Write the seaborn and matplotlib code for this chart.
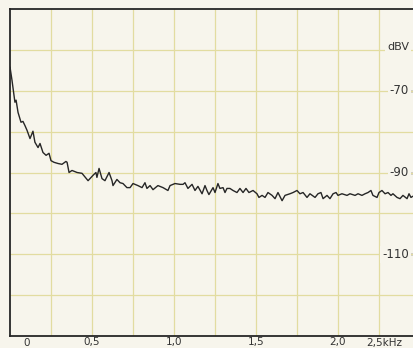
import matplotlib
matplotlib.use("Agg")
import matplotlib.pyplot as plt
import matplotlib.transforms as mtransforms
import seaborn as sns

# noise spectrum: frequency in kHz, level in dBV
freq_khz = [
    0.000, 0.012, 0.024, 0.030, 0.037, 0.049, 0.067, 0.079, 0.091, 0.104,
    0.122, 0.140, 0.152, 0.171, 0.183, 0.201, 0.220, 0.238, 0.250, 0.268,
    0.293, 0.317, 0.341, 0.348, 0.360, 0.378, 0.409, 0.439, 0.476, 0.506,
    0.524, 0.530, 0.543, 0.561, 0.579, 0.604, 0.622, 0.628, 0.652, 0.671,
    0.689, 0.713, 0.732, 0.750, 0.780, 0.805, 0.823, 0.835, 0.854, 0.872,
    0.902, 0.933, 0.963, 0.976, 1.006, 1.037, 1.055, 1.067, 1.085, 1.110,
    1.128, 1.146, 1.171, 1.189, 1.201, 1.213, 1.238, 1.250, 1.268, 1.280,
    1.299, 1.311, 1.323, 1.341, 1.360, 1.384, 1.402, 1.421, 1.439, 1.457,
    1.482, 1.506, 1.518, 1.537, 1.555, 1.573, 1.598, 1.616, 1.634, 1.659,
    1.677, 1.707, 1.726, 1.750, 1.768, 1.787, 1.811, 1.829, 1.860, 1.878,
    1.896, 1.909, 1.933, 1.951, 1.970, 1.988, 2.000, 2.024, 2.055, 2.073,
    2.104, 2.122, 2.146, 2.165, 2.183, 2.201, 2.213, 2.238, 2.250, 2.268,
    2.287, 2.305, 2.323, 2.335, 2.360, 2.378, 2.396, 2.421, 2.433, 2.445,
    2.457,
]
level_dbv = [
    -64.2, -67.4, -71.1, -72.8, -72.3, -75.3, -77.7, -77.5, -78.5, -79.7,
    -81.7, -79.9, -82.6, -83.9, -82.9, -85.1, -85.8, -85.3, -87.1, -87.5,
    -87.8, -88.0, -87.3, -87.5, -90.0, -89.5, -90.0, -90.2, -92.0, -90.7,
    -90.0, -91.2, -89.0, -91.5, -92.0, -90.0, -92.0, -93.2, -91.7, -92.5,
    -92.7, -93.7, -93.7, -92.7, -93.2, -93.7, -92.5, -93.9, -93.2, -94.2,
    -93.2, -93.7, -94.4, -93.2, -92.7, -92.9, -92.9, -92.5, -93.9, -92.9,
    -94.4, -93.4, -95.2, -93.2, -94.4, -95.4, -93.7, -94.9, -92.7, -93.9,
    -93.7, -94.9, -93.9, -93.9, -94.4, -94.9, -93.9, -94.9, -93.9, -94.9,
    -94.4, -95.2, -96.1, -95.6, -96.1, -94.9, -95.6, -96.4, -94.9, -96.9,
    -95.6, -95.2, -94.9, -94.4, -95.2, -94.9, -96.1, -95.2, -96.1, -95.2,
    -94.9, -96.4, -95.6, -96.4, -95.2, -94.9, -95.6, -95.2, -95.6, -95.2,
    -95.6, -95.2, -95.6, -95.2, -94.9, -94.4, -95.6, -96.1, -94.9, -94.4,
    -95.2, -94.9, -95.6, -95.2, -96.1, -96.4, -95.6, -96.4, -95.2, -96.1,
    -95.8,
]
assert len(freq_khz) == len(level_dbv)

x_ticks = [0.5, 1.0, 1.5, 2.0]
x_tick_labels = ["0,5", "1,0", "1,5", "2,0"]
y_labels = {-70: "-70", -90: "-90", -110: "-110"}

paper = "#f7f5ec"
grid_col = "#e2dca0"
ink = "#262626"
text_col = "#333333"

sns.set_style("white", {"axes.facecolor": paper, "figure.facecolor": paper})
plt.rcParams["font.family"] = ["DejaVu Sans"]

fig = plt.figure(figsize=(4.13, 3.48), dpi=100)
# the scan cuts the plot on the right, so the axes run past the figure edge
ax = fig.add_axes([10 / 413, 12 / 348, 410 / 413, 327 / 348])

sns.lineplot(x=freq_khz, y=level_dbv, ax=ax, color=ink, linewidth=1.0,
             estimator=None, zorder=3)

ax.set_xlim(0, 2.5)
ax.set_ylim(-130, -50)

# yellowish chart-paper grid
for gx in [0.25 * i for i in range(1, 10)]:
    ax.axvline(gx, color=grid_col, linewidth=0.9, zorder=1)
for gy in range(-120, -50, 10):
    ax.axhline(gy, color=grid_col, linewidth=0.9, zorder=1)

ax.set_xticks(x_ticks)
ax.set_xticklabels(x_tick_labels)
ax.tick_params(axis="x", direction="in", length=5, width=1, color=ink,
               pad=1, labelsize=7.5, labelcolor=text_col)
ax.yaxis.tick_right()
ax.set_yticks(list(y_labels.keys()))
ax.set_yticklabels([])
ax.tick_params(axis="y", direction="in", length=10, width=1, color=text_col)

trans = mtransforms.blended_transform_factory(ax.transData, ax.transAxes)
ax.text(0.104, -0.006, "0", transform=trans, ha="center", va="top",
        fontsize=7.5, color=text_col)
ax.text(2.28, -0.006, "2,5kHz", transform=trans, ha="center", va="top",
        fontsize=7.5, color=text_col)

lab_box = dict(facecolor=paper, edgecolor="none", pad=1.5)
ytrans = mtransforms.blended_transform_factory(ax.transAxes, ax.transData)
for val, lab in y_labels.items():
    ax.text(0.973, val, lab, transform=ytrans, ha="right", va="center",
            fontsize=8.5, color=text_col, bbox=lab_box, zorder=4)
ax.text(0.973, -59.2, "dBV", transform=ytrans, ha="right", va="center",
        fontsize=8, color=text_col, bbox=lab_box, zorder=4)

for side in ["left", "top", "bottom", "right"]:
    ax.spines[side].set_visible(True)
    ax.spines[side].set_color(ink)
    ax.spines[side].set_linewidth(1.3)

ax.set_xlabel("")
ax.set_ylabel("")

fig.savefig("out.png", dpi=100, facecolor=paper)
